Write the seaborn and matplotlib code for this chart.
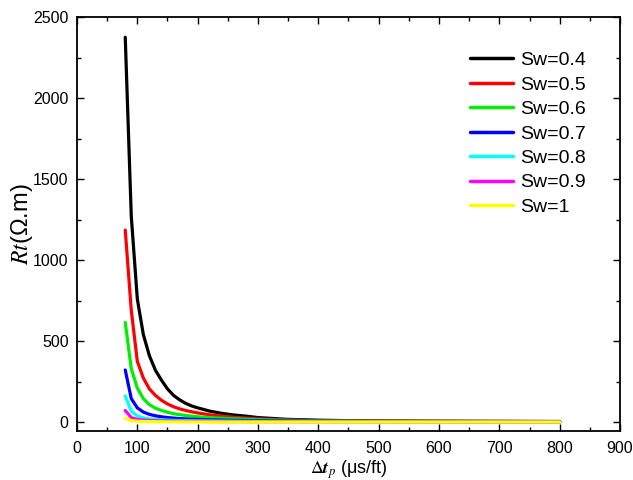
import matplotlib
matplotlib.use("Agg")
import matplotlib.pyplot as plt
from matplotlib.ticker import MultipleLocator
import pandas as pd
import seaborn as sns

# Sonic transit time (us/ft)
dt = [80, 90, 100, 110, 120, 130, 140, 150, 160, 170, 180, 190, 200,
      220, 240, 260, 280, 300, 350, 400, 450, 500, 600, 700, 800]

# True resistivity (ohm.m) for each water saturation
rt_04 = [2375, 1270, 760, 540, 410, 320, 259, 205, 165, 138, 116, 100, 88,
         68, 54, 44, 37, 28, 17, 12, 9, 7.5, 6, 5, 4]
rt_05 = [1185, 690, 375, 272, 205, 165, 135, 112, 95, 82, 72, 64, 57,
         45, 37, 30, 25, 20, 13, 9, 7, 6, 4.5, 3.8, 3.2]
rt_06 = [615, 330, 210, 145, 108, 86, 72, 61, 52, 46, 41, 37, 33,
         28, 24, 21, 18, 15, 11, 8, 6.5, 5.5, 4.2, 3.4, 2.8]
rt_07 = [322, 145, 88, 62, 48, 39, 33, 28, 25, 22, 20, 18, 16.5,
         14, 12.5, 11, 10, 9, 7, 5.5, 4.5, 4, 3, 2.5, 2]
rt_08 = [162, 68, 38, 26, 20, 16.5, 14, 12.5, 11, 10, 9, 8.5, 8,
         7, 6.3, 5.7, 5.2, 4.8, 4, 3.4, 3, 2.7, 2.2, 1.9, 1.6]
rt_09 = [72, 28, 17, 12, 9.5, 8, 7, 6.3, 5.7, 5.2, 4.8, 4.5, 4.2,
         3.7, 3.3, 3, 2.8, 2.6, 2.2, 1.9, 1.7, 1.5, 1.3, 1.1, 1.0]
rt_10 = [24, 9, 5.5, 4, 3.2, 2.7, 2.3, 2.0, 1.8, 1.6, 1.5, 1.4, 1.3,
         1.2, 1.1, 1.0, 0.9, 0.85, 0.75, 0.65, 0.6, 0.55, 0.5, 0.45, 0.4]

labels = ["Sw=0.4", "Sw=0.5", "Sw=0.6", "Sw=0.7", "Sw=0.8", "Sw=0.9", "Sw=1"]
colors = ["#000000", "#ff0000", "#00ee00", "#0000ff", "#00ffff", "#ff00ff", "#ffff00"]
series = [rt_04, rt_05, rt_06, rt_07, rt_08, rt_09, rt_10]

rows = []
for lab, vals in zip(labels, series):
    for x, y in zip(dt, vals):
        rows.append({"dt": x, "Rt": y, "Sw": lab})
df = pd.DataFrame(rows)

sns.set_style("ticks")
plt.rcParams["font.family"] = ["Liberation Sans", "DejaVu Sans"]
plt.rcParams["mathtext.fontset"] = "stix"
plt.rcParams["text.color"] = "black"
plt.rcParams["axes.labelcolor"] = "black"

fig = plt.figure(figsize=(6.33, 4.8), dpi=100)
ax = fig.add_axes([0.1216, 0.102, 0.9795 - 0.1216, 0.9646 - 0.102])

sns.lineplot(data=df, x="dt", y="Rt", hue="Sw", hue_order=labels,
             palette=dict(zip(labels, colors)), linewidth=2.3, ax=ax,
             estimator=None, sort=True)

ax.set_xlim(0, 900)
ax.set_ylim(-55, 2500)
ax.xaxis.set_major_locator(MultipleLocator(100))
ax.xaxis.set_minor_locator(MultipleLocator(50))
ax.yaxis.set_major_locator(MultipleLocator(500))
ax.yaxis.set_minor_locator(MultipleLocator(250))
ax.tick_params(which="both", direction="in", top=True, right=True,
               width=1.0, colors="black")
ax.tick_params(which="major", length=5, labelsize=11.5)
ax.tick_params(axis="x", which="major", pad=7)
ax.tick_params(axis="y", which="major", pad=6)
ax.tick_params(which="minor", length=3)
for sp in ax.spines.values():
    sp.set_linewidth(1.3)
    sp.set_color("black")

ax.set_xlabel(r"$\Delta\mathbfit{t}_{p}$ (μs/ft)", fontsize=13, labelpad=2)
ax.set_ylabel(r"$Rt$(Ω.m)", fontsize=17)
ax.yaxis.set_label_coords(-0.078, 0.5)

leg = ax.legend(loc="upper right", bbox_to_anchor=(0.952, 0.935), frameon=False,
                fontsize=14, handlelength=2.2, handletextpad=0.4,
                labelspacing=0.35, borderaxespad=0)
for h in leg.get_lines():
    h.set_linewidth(2.5)
for t in leg.get_texts():
    t.set_color("black")

fig.savefig("out.png", dpi=100)
